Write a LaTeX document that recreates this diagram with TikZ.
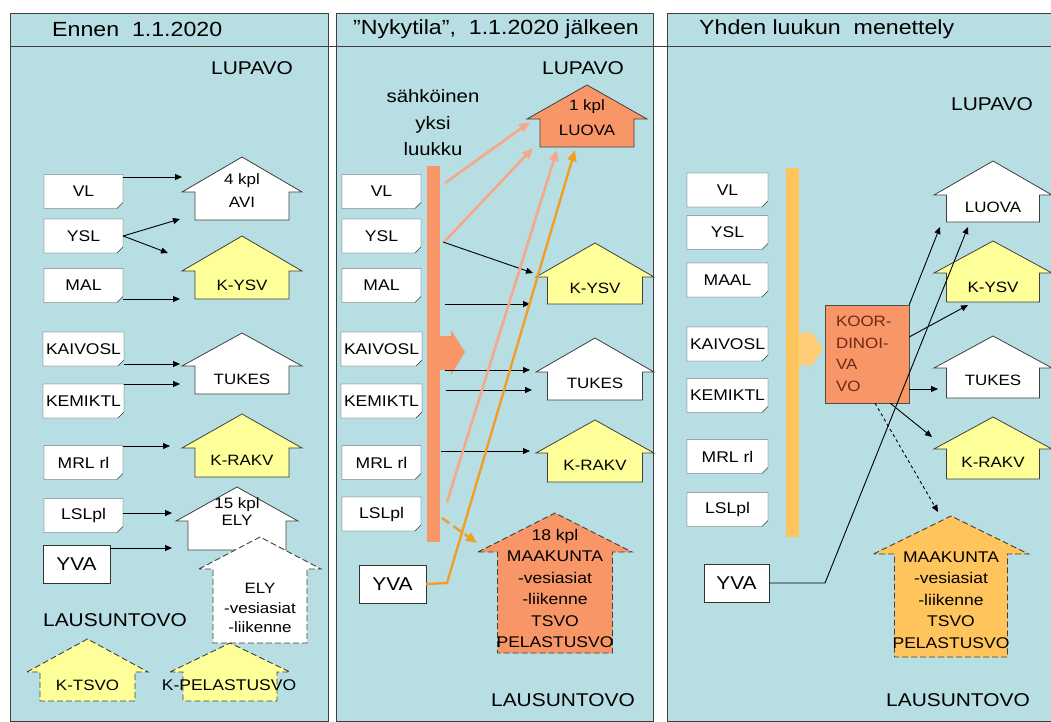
\documentclass[tikz,border=0pt]{standalone}
\usepackage{fontspec}
\setmainfont{Liberation Sans}[FakeStretch=1.13]
\usepackage{tikz}
\usetikzlibrary{positioning, arrows.meta, shapes.misc}
\definecolor{panelbg}{RGB}{183, 222, 226}
\definecolor{kyellow}{RGB}{255, 255, 153}
\definecolor{lorange}{RGB}{249, 150, 104}
\definecolor{salmon}{RGB}{248, 168, 138}
\definecolor{amber}{RGB}{240, 158, 40}
\definecolor{gold}{RGB}{255, 196, 92}
\definecolor{kbrown}{RGB}{110, 40, 20}
\tikzset{
    panel/.style={draw=black!75, fill=panelbg, line width=0.8pt},
    title/.style={inner sep=0pt, font=\fontsize{20.5}{24}\selectfont},
    bigtext/.style={inner sep=0pt, align=center, font=\fontsize{18.5}{26.5}\selectfont},
    lawbox/.style={chamfered rectangle, chamfered rectangle corners=south east, chamfered rectangle sep=3pt,
        draw=black!80, fill=white, minimum width=79pt, minimum height=34pt, inner sep=0pt,
        font=\fontsize{15.5}{18}\selectfont},
    yvabox/.style={rectangle, draw=black!80, fill=white, minimum width=67pt, minimum height=38pt,
        inner sep=0pt, font=\fontsize{18.5}{22}\selectfont},
    housetext/.style={inner sep=0pt, align=center, font=\fontsize{15}{21.5}\selectfont},
    whitehouse/.style={draw=black!75, fill=white, line width=0.8pt},
    yellowhouse/.style={draw=black!75, fill=kyellow, line width=0.8pt},
    dashhouse/.style={draw=black!75, line width=0.9pt, dash pattern=on 6pt off 3pt},
    bar/.style={rectangle, draw=none, minimum width=13pt, inner sep=0pt},
    koorbox/.style={draw=black!70, fill=lorange, minimum width=84pt, minimum height=98pt, inner sep=0pt,
        text width=62pt, align=left, text=kbrown, font=\fontsize{15}{21.5}\selectfont},
    arr/.style={-{Triangle[length=7pt, width=6pt]}, line width=0.9pt, draw=black},
    salarr/.style={-{Triangle[length=11pt, width=9pt]}, line width=2.6pt, draw=salmon},
    ambarr/.style={-{Triangle[length=11pt, width=9pt]}, line width=2.4pt, draw=amber}
}
% house: style, centre x, apex y, eave y, bottom y, roof half width, body half width
\newcommand{\house}[7]{%
    \draw[#1] (#2-#6,#4) -- (#2,#3) -- (#2+#6,#4) -- (#2+#7,#4) -- (#2+#7,#5)
        -- (#2-#7,#5) -- (#2-#7,#4) -- cycle;}

\begin{document}
\begin{tikzpicture}[x=1pt, y=-1pt]
    \useasboundingbox (0,0) rectangle (1051,722);

    % Three panels and the header line
    \draw[panel] (10,13) rectangle (328,721);
    \draw[panel] (336,13) rectangle (653,721);
    \draw[panel] (667,13) rectangle (1070,721);
    \draw[black!75, line width=0.8pt] (10,46) -- (1051,46);
    \node[title, anchor=west] (t1) at (52,29) {Ennen\ \ 1.1.2020};
    \node[title] (t2) at (496,29) {”Nykytila”,\ \ 1.1.2020 jälkeen};
    \node[title, anchor=west] (t3) at (699,29) {Yhden luukun\ \ menettely};

    % ---- Panel 1: before 1.1.2020
    \node[bigtext] (lupavo1) at (252,68) {LUPAVO};
    \node[bigtext] (lausunto1) at (115,620) {LAUSUNTOVO};

    \node[lawbox] (vl1) at (83.5,191.5) {VL};
    \node[lawbox] (ysl1) at (83.5,236) {YSL};
    \node[lawbox] (mal1) at (83.5,285.5) {MAL};
    \node[lawbox] (kaivosl1) at (83.5,349) {KAIVOSL};
    \node[lawbox] (kemiktl1) at (83.5,401) {KEMIKTL};
    \node[lawbox] (mrl1) at (83.5,462.5) {MRL rl};
    \node[lawbox] (lslpl1) at (83.5,515.5) {LSLpl};
    \node[yvabox] (yva1) at (76.5,564.5) {YVA};

    \house{whitehouse}{242}{157}{192}{220}{60}{47}
    \node[housetext, font=\fontsize{15}{23}\selectfont] (avi) at (242,191) {4 kpl\\AVI};
    \house{yellowhouse}{242}{236}{271}{299}{60}{47}
    \node[housetext] (kysv1) at (242,285) {K-YSV};
    \house{whitehouse}{242}{333}{366}{394}{60}{47}
    \node[housetext] (tukes1) at (242,379) {TUKES};
    \house{yellowhouse}{242}{414}{448}{477}{60}{47}
    \node[housetext] (krakv1) at (242,460) {K-RAKV};
    \house{whitehouse}{237}{487}{521}{550}{61}{49}
    \node[housetext, font=\fontsize{15}{17}\selectfont] (ely15) at (237,512) {15 kpl\\ELY};
    \house{whitehouse, dashhouse}{260}{537}{569}{643}{61}{47}
    \node[housetext, font=\fontsize{15}{19.5}\selectfont] (elyvesi) at (260,608) {ELY\\-vesiasiat\\-liikenne};
    \house{yellowhouse, dashhouse}{87.5}{639}{672}{701}{60.5}{47.5}
    \node[housetext] (ktsvo) at (87.5,685) {K-TSVO};
    \house{yellowhouse, dashhouse}{230}{643}{672}{701}{60}{47}
    \node[housetext, font=\fontsize{15.5}{18}\selectfont] (kpel) at (229,685) {K-PELASTUSVO};

    \coordinate (avi in) at (182,177);
    \coordinate (avi in2) at (180,219);
    \coordinate (kysv1 in) at (168,253);
    \coordinate (kysv1 in2) at (180,299);
    \coordinate (tukes1 in) at (180,364);
    \coordinate (tukes1 in2) at (180,384);
    \coordinate (krakv1 in) at (170,446);
    \coordinate (ely15 in) at (172,513);
    \coordinate (ely15 in2) at (172,548);
    \draw[arr] (vl1.east |- avi in) -- (avi in);
    \draw[arr] (ysl1.east) -- (avi in2);
    \draw[arr] (ysl1.east) -- (kysv1 in);
    \draw[arr] (mal1.east |- kysv1 in2) -- (kysv1 in2);
    \draw[arr] (kaivosl1.east |- tukes1 in) -- (tukes1 in);
    \draw[arr] (kemiktl1.east |- tukes1 in2) -- (tukes1 in2);
    \draw[arr] (mrl1.east |- krakv1 in) -- (krakv1 in);
    \draw[arr] (lslpl1.east |- ely15 in) -- (ely15 in);
    \draw[arr] (yva1.east |- ely15 in2) -- (ely15 in2);

    % ---- Panel 2: present state
    \node[bigtext] (lupavo2) at (583,68) {LUPAVO};
    \node[bigtext] (lausunto2) at (563,700) {LAUSUNTOVO};
    \node[bigtext, font=\fontsize{18}{26.5}\selectfont] (luukku) at (433,123) {sähköinen\\yksi\\luukku};

    \node[lawbox] (vl2) at (381.5,191.5) {VL};
    \node[lawbox] (ysl2) at (381.5,236) {YSL};
    \node[lawbox] (mal2) at (381.5,285.5) {MAL};
    \node[lawbox] (kaivosl2) at (381.5,349) {KAIVOSL};
    \node[lawbox] (kemiktl2) at (381.5,401) {KEMIKTL};
    \node[lawbox] (mrl2) at (381.5,462.5) {MRL rl};
    \node[lawbox] (lslpl2) at (381.5,514) {LSLpl};
    \node[yvabox] (yva2) at (392.5,584) {YVA};

    \node[bar, fill=lorange, minimum height=376pt] (bar2) at (433.5,354) {};
    \fill[lorange] (440,336) -- (451,336) -- (451,330) -- (465,352) -- (451,375) -- (451,370)
        -- (440,370) -- cycle;

    \house{whitehouse, fill=lorange}{587}{85}{119}{147}{60}{47}
    \node[housetext, font=\fontsize{15}{25}\selectfont] (luova2) at (587,118) {1 kpl\\LUOVA};
    \house{yellowhouse}{595}{243}{277}{304}{59}{47.5}
    \node[housetext] (kysv2) at (595,288) {K-YSV};
    \house{whitehouse}{595}{338}{372}{400}{59}{47.5}
    \node[housetext] (tukes2) at (595,383) {TUKES};
    \house{yellowhouse}{595}{420}{453}{482}{59}{47.5}
    \node[housetext] (krakv2) at (595,465) {K-RAKV};
    \house{whitehouse, fill=lorange, dashhouse}{555}{513}{552}{653}{77}{57.5}
    \node[housetext, font=\fontsize{15.5}{21.4}\selectfont] (maak2) at (555,588.5)
        {18 kpl\\MAAKUNTA\\-vesiasiat\\-liikenne\\TSVO\\PELASTUSVO};

    \coordinate (s2a) at (445,183);
    \coordinate (s2b) at (445,241);
    \coordinate (s2c) at (447,502);
    \coordinate (s2d) at (443,242);
    \coordinate (s2e) at (442,518);
    \coordinate (yva2 bend) at (447,583);
    \coordinate (luova2 a) at (530,122);
    \coordinate (luova2 b) at (533,148);
    \coordinate (luova2 c) at (557,150);
    \coordinate (luova2 d) at (575,150);
    \coordinate (kysv2 a) at (533,273);
    \coordinate (kysv2 b) at (530,304);
    \coordinate (tukes2 a) at (530,370);
    \coordinate (tukes2 b) at (532,390);
    \coordinate (krakv2 in) at (530,451);
    \coordinate (maak2 in) at (477,543);
    \draw[arr] (s2d) -- (kysv2 a);
    \draw[arr] ([xshift=5pt]bar2.east |- kysv2 b) -- (kysv2 b);
    \draw[arr] ([xshift=5pt]bar2.east |- tukes2 a) -- (tukes2 a);
    \draw[arr] ([xshift=6pt]bar2.east |- tukes2 b) -- (tukes2 b);
    \draw[arr] ([xshift=1pt]bar2.east |- krakv2 in) -- (krakv2 in);
    \draw[salarr] (s2a) -- (luova2 a);
    \draw[salarr] (s2b) -- (luova2 b);
    \draw[salarr] (s2c) -- (luova2 c);
    \draw[ambarr] (yva2.east) -- (yva2 bend) -- (luova2 d);
    \draw[ambarr, dash pattern=on 9pt off 5pt] (s2e) -- (maak2 in);

    % ---- Panel 3: one-stop procedure
    \node[bigtext] (lupavo3) at (992,104) {LUPAVO};
    \node[bigtext] (lausunto3) at (958,700) {LAUSUNTOVO};

    \node[lawbox, minimum width=81pt] (vl3) at (727.5,190) {VL};
    \node[lawbox, minimum width=81pt] (ysl3) at (727.5,232.5) {YSL};
    \node[lawbox, minimum width=81pt] (maal3) at (727.5,280) {MAAL};
    \node[lawbox, minimum width=81pt] (kaivosl3) at (727.5,344) {KAIVOSL};
    \node[lawbox, minimum width=81pt] (kemiktl3) at (727.5,395.5) {KEMIKTL};
    \node[lawbox, minimum width=81pt] (mrl3) at (727.5,456.5) {MRL rl};
    \node[lawbox, minimum width=81pt] (lslpl3) at (727.5,509.5) {LSLpl};
    \node[yvabox, minimum width=65pt] (yva3) at (736.5,583) {YVA};

    \node[bar, fill=gold, minimum height=369pt] (bar3) at (792.5,352.5) {};
    \fill[gold!85] (799,333) -- (810,333) -- (810,330) -- (823,349) -- (810,368) -- (810,365)
        -- (799,365) -- cycle;

    \house{whitehouse}{993}{161}{195}{222}{59}{46.5}
    \node[housetext] (luova3) at (993,207) {LUOVA};
    \house{yellowhouse}{993}{241}{273}{302}{59}{46.5}
    \node[housetext] (kysv3) at (993,287) {K-YSV};
    \house{whitehouse}{993}{336}{368}{398}{59}{46.5}
    \node[housetext] (tukes3) at (993,380) {TUKES};
    \house{yellowhouse}{993}{417}{449}{479}{59}{46.5}
    \node[housetext] (krakv3) at (993,462) {K-RAKV};
    \house{whitehouse, fill=gold, dashhouse}{951}{516}{554}{657}{77.5}{56.5}
    \node[housetext, font=\fontsize{15.5}{21.5}\selectfont] (maak3) at (951,600)
        {MAAKUNTA\\-vesiasiat\\-liikenne\\TSVO\\PELASTUSVO};

    \node[koorbox] (koor) at (867,354) {KOOR-\\DINOI-\\VA\\VO};

    \coordinate (luova3 a) at (940,227);
    \coordinate (luova3 b) at (968,227);
    \coordinate (kysv3 in) at (968,305);
    \coordinate (tukes3 in) at (938,389);
    \coordinate (krakv3 in) at (932,437);
    \coordinate (maak3 in) at (938,512);
    \coordinate (yva3 bend) at (825,583);
    \draw[arr] (koor.north east) -- (luova3 a);
    \draw[arr] ([yshift=17pt]koor.east) -- (kysv3 in);
    \draw[arr] (koor.east |- tukes3 in) -- (tukes3 in);
    \draw[arr] ([xshift=-19pt]koor.south east) -- (krakv3 in);
    \draw[arr, dashed] ([xshift=8pt]koor.south) -- (maak3 in);
    \draw[arr] (yva3.east) -- (yva3 bend) -- (luova3 b);
\end{tikzpicture}
\end{document}
